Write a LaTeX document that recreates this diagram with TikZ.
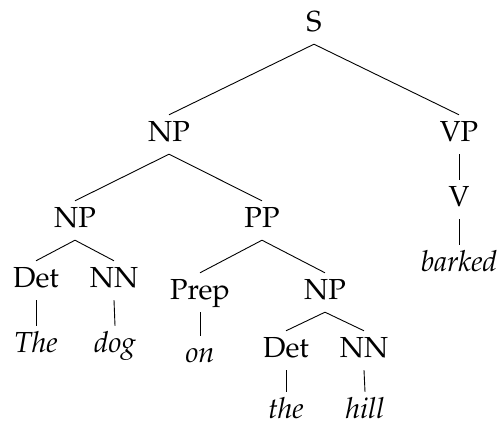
\documentclass[tikz,border=0pt]{standalone}
\usepackage[T1]{fontenc}
\usepackage{mathpazo}
\begin{document}
\begin{tikzpicture}[x=1pt,y=-1pt,
  tn/.style={anchor=base, inner xsep=0pt, inner ysep=7pt, text height=20pt, text depth=5pt, font=\fontsize{29}{34}\selectfont},
  lf/.style={anchor=base, inner xsep=0pt, inner ysep=0pt, text height=27pt, text depth=0pt, font=\fontsize{29}{34}\selectfont\itshape},
  edge/.style={draw, line width=0.9pt}]
\useasboundingbox (0,0) rectangle (498,427);
\node[tn] (S) at (314,32) {S};
\node[tn] (NP1) at (169,142) {NP};
\node[tn] (VP) at (459,142) {VP};
\node[tn] (V) at (459,207) {V};
\node[lf] (barked) at (459,272) {barked};
\node[tn] (NP2) at (75,228) {NP};
\node[tn] (PP) at (262,228) {PP};
\node[tn] (Det1) at (36,288) {Det};
\node[tn] (NN1) at (114,288) {NN};
\node[lf] (The) at (36,353) {The};
\node[lf] (dog) at (115,353) {dog};
\node[tn] (Prep) at (200,300) {Prep};
\node[tn] (NP3) at (325,300) {NP};
\node[lf] (on) at (200,363) {on};
\node[tn] (Det2) at (286,358) {Det};
\node[tn] (NN2) at (364,358) {NN};
\node[lf] (the) at (286,419) {the};
\node[lf] (hill) at (365,419) {hill};
\path[edge] (S.south) -- (NP1.north);
\path[edge] (S.south) -- (VP.north);
\path[edge] (VP.south) -- (V.north);
\path[edge] (V.south) -- (barked.north);
\path[edge] (NP1.south) -- (NP2.north);
\path[edge] (NP1.south) -- (PP.north);
\path[edge] (NP2.south) -- (Det1.north);
\path[edge] (NP2.south) -- (NN1.north);
\path[edge] (Det1.south) -- (The.north);
\path[edge] (NN1.south) -- (dog.north);
\path[edge] (PP.south) -- (Prep.north);
\path[edge] (PP.south) -- (NP3.north);
\path[edge] (Prep.south) -- (on.north);
\path[edge] (NP3.south) -- (Det2.north);
\path[edge] (NP3.south) -- (NN2.north);
\path[edge] (Det2.south) -- (the.north);
\path[edge] (NN2.south) -- (hill.north);
\end{tikzpicture}
\end{document}
